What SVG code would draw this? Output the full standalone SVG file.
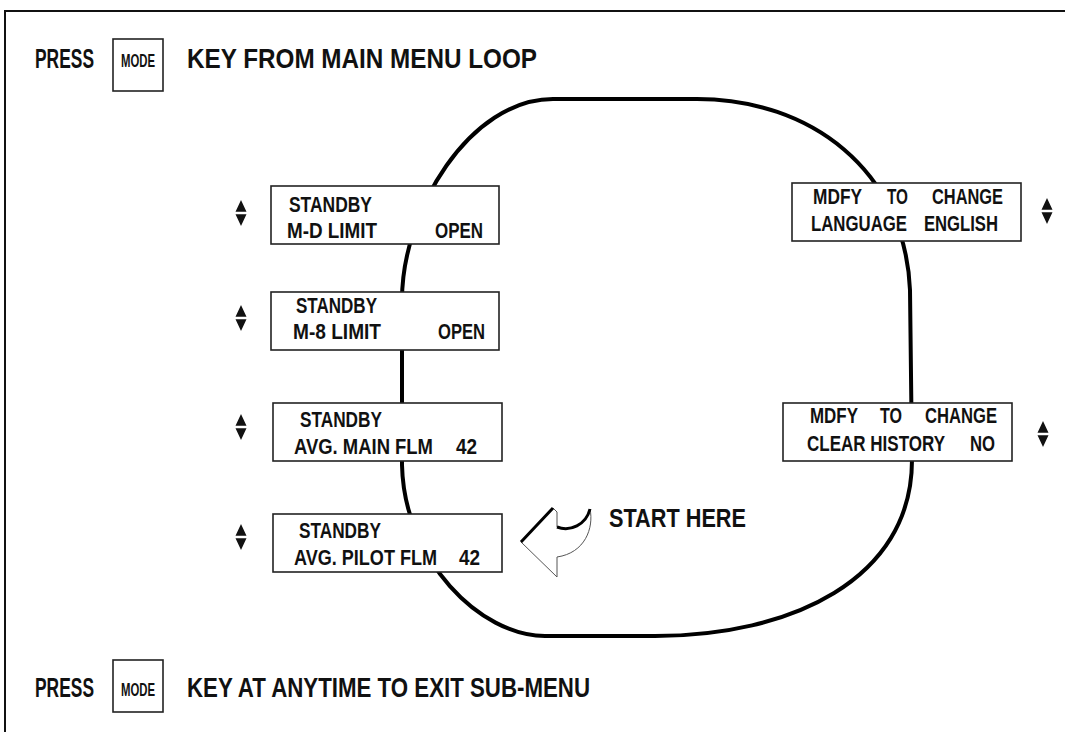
<svg xmlns="http://www.w3.org/2000/svg" width="1065" height="732" viewBox="0 0 1065 732">
<defs>
<style>
text{font-family:"Liberation Sans Narrow","Liberation Sans",Arial,sans-serif;font-weight:bold;fill:#111;}
.h{font-size:28px;}
.p{font-size:19px;}
.k{font-size:15px;}
.t{font-size:19.5px;}
.box{fill:#fff;stroke:#222;stroke-width:1.6;}
.loop{fill:none;stroke:#000;stroke-width:4;}
</style>
<g id="updown">
<polygon points="-5.5,-1.2 5.5,-1.2 0,-13" fill="#111"/>
<polygon points="-5.5,1.2 5.5,1.2 0,13" fill="#111"/>
</g>
</defs>
<rect width="1065" height="732" fill="#fff"/>
<g id="frame">
<path d="M5,732 V11 H1065" fill="none" stroke="#111" stroke-width="2"/>
</g>
<g id="header">
<text class="p" transform="translate(0,68) scale(1,1.47)"><tspan x="35" textLength="59" lengthAdjust="spacingAndGlyphs">PRESS</tspan></text>
<rect class="box" x="113" y="39" width="50" height="52"/>
<text class="k" transform="translate(0,67) scale(1,1.27)"><tspan x="121" textLength="34" lengthAdjust="spacingAndGlyphs">MODE</tspan></text>
<text class="h" x="187" y="68" textLength="350" lengthAdjust="spacingAndGlyphs">KEY FROM MAIN MENU LOOP</text>
</g>
<g id="connectors">
<path class="loop" d="M553,99 L697,99 C810,99 905,170 910,290 L912,460 C912,580 790,636 655,636 L545,636 C480,636 404,560 402,465 L402,300 C402,210 470,99 553,99 Z"/>
</g>
<g id="node-md-limit">
<rect class="box" x="271" y="186" width="228" height="58"/>
<text class="t" transform="translate(0,212) scale(1,1.15)"><tspan x="289" textLength="83" lengthAdjust="spacingAndGlyphs">STANDBY</tspan></text>
<text class="t" transform="translate(0,238) scale(1,1.15)"><tspan x="287" textLength="90" lengthAdjust="spacingAndGlyphs">M-D LIMIT</tspan><tspan x="435" textLength="48" lengthAdjust="spacingAndGlyphs">OPEN</tspan></text>
<use href="#updown" x="241" y="213"/>
</g>
<g id="node-m8-limit">
<rect class="box" x="271" y="292" width="228" height="58"/>
<text class="t" transform="translate(0,313) scale(1,1.15)"><tspan x="296" textLength="81" lengthAdjust="spacingAndGlyphs">STANDBY</tspan></text>
<text class="t" transform="translate(0,339) scale(1,1.15)"><tspan x="293" textLength="88" lengthAdjust="spacingAndGlyphs">M-8 LIMIT</tspan><tspan x="438" textLength="47" lengthAdjust="spacingAndGlyphs">OPEN</tspan></text>
<use href="#updown" x="241" y="318"/>
</g>
<g id="node-main-flm">
<rect class="box" x="273" y="403" width="229" height="58"/>
<text class="t" transform="translate(0,427) scale(1,1.15)"><tspan x="300" textLength="82" lengthAdjust="spacingAndGlyphs">STANDBY</tspan></text>
<text class="t" transform="translate(0,454) scale(1,1.15)"><tspan x="294" textLength="139" lengthAdjust="spacingAndGlyphs">AVG. MAIN FLM</tspan><tspan x="456" textLength="21" lengthAdjust="spacingAndGlyphs">42</tspan></text>
<use href="#updown" x="241" y="427"/>
</g>
<g id="node-pilot-flm">
<rect class="box" x="273" y="514" width="229" height="58"/>
<text class="t" transform="translate(0,538) scale(1,1.15)"><tspan x="299" textLength="82" lengthAdjust="spacingAndGlyphs">STANDBY</tspan></text>
<text class="t" transform="translate(0,565) scale(1,1.15)"><tspan x="294" textLength="143" lengthAdjust="spacingAndGlyphs">AVG. PILOT FLM</tspan><tspan x="459" textLength="21" lengthAdjust="spacingAndGlyphs">42</tspan></text>
<use href="#updown" x="241" y="537"/>
</g>
<g id="node-language">
<rect class="box" x="792" y="183" width="229" height="58"/>
<text class="t" transform="translate(0,204) scale(1,1.15)"><tspan x="813" textLength="49" lengthAdjust="spacingAndGlyphs">MDFY</tspan><tspan x="887" textLength="21" lengthAdjust="spacingAndGlyphs">TO</tspan><tspan x="932" textLength="71" lengthAdjust="spacingAndGlyphs">CHANGE</tspan></text>
<text class="t" transform="translate(0,231) scale(1,1.15)"><tspan x="811" textLength="96" lengthAdjust="spacingAndGlyphs">LANGUAGE</tspan><tspan x="924" textLength="74" lengthAdjust="spacingAndGlyphs">ENGLISH</tspan></text>
<use href="#updown" x="1047" y="211"/>
</g>
<g id="node-history">
<rect class="box" x="783" y="403" width="229" height="58"/>
<text class="t" transform="translate(0,423) scale(1,1.15)"><tspan x="810" textLength="48" lengthAdjust="spacingAndGlyphs">MDFY</tspan><tspan x="880" textLength="22" lengthAdjust="spacingAndGlyphs">TO</tspan><tspan x="925" textLength="72" lengthAdjust="spacingAndGlyphs">CHANGE</tspan></text>
<text class="t" transform="translate(0,451) scale(1,1.15)"><tspan x="807" textLength="138" lengthAdjust="spacingAndGlyphs">CLEAR HISTORY</tspan><tspan x="970" textLength="25" lengthAdjust="spacingAndGlyphs">NO</tspan></text>
<use href="#updown" x="1043" y="434"/>
</g>
<g id="start-here">
<path d="M521,542 L553,508 L557,512 L557,527 C570,532 586,525 590,509 C594,528 585,553 557,557 L557,577 Z" fill="#fff" stroke="#555" stroke-width="1"/>
<path d="M521,542 L553,508 M557,527 C570,532 586,525 590,509" fill="none" stroke="#000" stroke-width="3"/>
<text class="h" x="609" y="527" textLength="137" lengthAdjust="spacingAndGlyphs" style="font-size:25px">START HERE</text>
</g>
<g id="footer">
<text class="p" transform="translate(0,697) scale(1,1.47)"><tspan x="35" textLength="59" lengthAdjust="spacingAndGlyphs">PRESS</tspan></text>
<rect class="box" x="113" y="660" width="50" height="52"/>
<text class="k" transform="translate(0,696) scale(1,1.27)"><tspan x="121" textLength="34" lengthAdjust="spacingAndGlyphs">MODE</tspan></text>
<text class="h" x="187" y="697" textLength="403" lengthAdjust="spacingAndGlyphs">KEY AT ANYTIME TO EXIT SUB-MENU</text>
</g>
</svg>
